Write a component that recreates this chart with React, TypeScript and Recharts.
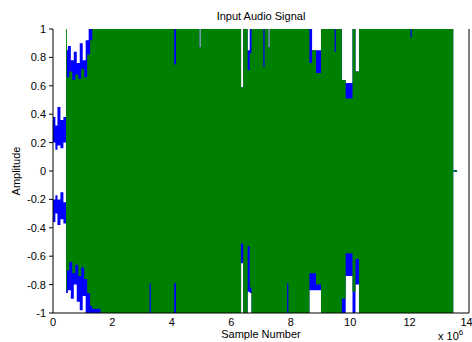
import React from 'react'
import { Area, ComposedChart, Line, XAxis, YAxis } from 'recharts'

// x in units of 10^6 samples
const xTicks = [0, 2, 4, 6, 8, 10, 12, 14]
const yTicks = [-1, -0.8, -0.6, -0.4, -0.2, 0, 0.2, 0.4, 0.6, 0.8, 1]

// green channel envelope (step)
const greenX = [0.44, 0.47, 0.55, 0.65, 0.75, 0.85, 0.95, 1.05, 1.15, 1.25, 1.32, 1.6, 3.25, 3.29, 4.08, 4.14, 4.93, 4.97, 6.33, 6.4, 6.55, 6.62, 6.68, 7.08, 7.12, 7.25, 7.29, 7.88, 7.92, 8.63, 8.72, 8.85, 9.02, 9.48, 9.52, 9.72, 9.85, 10.08, 10.18, 10.3, 12.03, 12.07, 13.47]
const greenHi = [1, 0.66, 0.7, 0.64, 0.68, 0.65, 0.72, 0.66, 0.82, 0.92, 1, 1, 1, 1, 0.75, 1, 0.87, 1, 0.59, 1, 0.71, 0.83, 1, 0.73, 1, 0.87, 1, 1, 1, 0.76, 0.85, 0.69, 1, 0.84, 1, 0.64, 0.51, 1, 0.7, 1, 0.94, 1, 1]
const greenLo = [-0.84, -0.7, -0.64, -0.72, -0.66, -0.74, -0.68, -0.76, -0.86, -0.95, -0.97, -1, -0.79, -1, -0.79, -1, -1, -1, -0.51, -1, -0.53, -0.82, -1, -1, -1, -1, -1, -0.79, -1, -0.72, -0.72, -0.8, -1, -1, -1, -0.9, -0.58, -0.85, -0.62, -1, -1, -1, -1]

// blue channel envelope (only shows where it exceeds green)
const blueX = [0.44, 0.5, 0.6, 0.7, 0.8, 0.9, 1.0, 1.1, 1.2, 4.93, 4.97, 6.33, 6.4, 6.55, 6.62, 6.68, 7.25, 7.29, 8.63, 8.72, 9.02, 9.72, 9.85, 10.08, 10.18, 10.3, 13.47]
const blueHi = [0.85, 0.88, 0.78, 0.84, 0.76, 0.9, 0.78, 0.92, 1, 0.87, 1, 0.59, 1, 0.85, 1, 1, 0.87, 1, 1, 0.85, 1, 0.64, 0.62, 1, 0.7, 1, 1]
const blueLo = [-0.86, -0.84, -0.9, -0.8, -0.92, -0.98, -0.88, -1, -1, -1, -1, -0.65, -1, -0.85, -0.86, -1, -1, -1, -0.84, -0.84, -1, -1, -0.74, -1, -0.8, -1, -1]

// quiet lead-in before the green channel starts: two blue bands
const leadX = [0, 0.08, 0.15, 0.25, 0.35, 0.44]
const leadTopHi = [0.38, 0.32, 0.45, 0.36, 0.38, 0.38]
const leadTopLo = [0.2, 0.15, 0.18, 0.16, 0.2, 0.2]
const leadBotHi = [-0.2, -0.17, -0.2, -0.15, -0.22, -0.22]
const leadBotLo = [-0.36, -0.3, -0.38, -0.34, -0.37, -0.37]

// tail after the signal ends
const tailX = [13.47, 13.6]
const tailY = [0, 0]

const green = greenX.map((x, i) => ({ x, v: [greenLo[i], greenHi[i]] }))
const blue = blueX.map((x, i) => ({ x, v: [blueLo[i], blueHi[i]] }))
const leadTop = leadX.map((x, i) => ({ x, v: [leadTopLo[i], leadTopHi[i]] }))
const leadBot = leadX.map((x, i) => ({ x, v: [leadBotLo[i], leadBotHi[i]] }))
const tail = tailX.map((x, i) => ({ x, y: tailY[i] }))

const font = '"Liberation Sans", Arial, sans-serif'

const RightTick = (props: any) => {
  const { x, y } = props
  return <line x1={x - 4} x2={x} y1={y} y2={y} stroke="#000" />
}

export default function App() {
  return (
    <div style={{ position: 'absolute', left: 0, top: 0, width: 472, height: 342, background: '#fff', fontFamily: font }}>
      <ComposedChart width={472} height={342} margin={{ top: 29, right: 0, bottom: 0, left: 0 }}>
        <XAxis xAxisId="b" type="number" dataKey="x" domain={[0, 14]} ticks={xTicks} allowDataOverflow
          axisLine={{ stroke: '#000' }} tickLine={false} tickSize={0} tickMargin={5} height={29}
          tick={{ fontSize: 11, fill: '#000', fontFamily: font }} />
        <XAxis xAxisId="t" orientation="top" type="number" domain={[0, 14]} height={0}
          axisLine={{ stroke: '#999' }} tick={false} tickLine={false} />
        <YAxis yAxisId="l" type="number" domain={[-1, 1]} ticks={yTicks} width={53} allowDataOverflow
          axisLine={{ stroke: '#000' }} tickLine={{ stroke: '#000' }} tickSize={4} tickMargin={3}
          tick={{ fontSize: 11, fill: '#000', fontFamily: font }} />
        <YAxis yAxisId="r" orientation="right" type="number" domain={[-1, 1]} ticks={yTicks} width={3}
          axisLine={{ stroke: '#000' }} tickLine={false} tickSize={0} tickMargin={0} tick={<RightTick />} />
        <Area xAxisId="b" yAxisId="l" data={leadTop} dataKey="v" type="stepAfter" stroke="none" fill="#0000ff" fillOpacity={1} isAnimationActive={false} />
        <Area xAxisId="b" yAxisId="l" data={leadBot} dataKey="v" type="stepAfter" stroke="none" fill="#0000ff" fillOpacity={1} isAnimationActive={false} />
        <Area xAxisId="b" yAxisId="l" data={blue} dataKey="v" type="stepAfter" stroke="none" fill="#0000ff" fillOpacity={1} isAnimationActive={false} />
        <Area xAxisId="b" yAxisId="l" data={green} dataKey="v" type="stepAfter" stroke="none" fill="#008000" fillOpacity={1} isAnimationActive={false} />
        <Line xAxisId="b" yAxisId="l" data={tail} dataKey="y" stroke="#006060" strokeWidth={2} dot={false} isAnimationActive={false} />
      </ComposedChart>
      <div style={{ position: 'absolute', left: 0, width: 522, top: 10, textAlign: 'center', fontSize: 11, color: '#000' }}>Input Audio Signal</div>
      <div style={{ position: 'absolute', left: 0, width: 522, top: 328, textAlign: 'center', fontSize: 11, color: '#000' }}>Sample Number</div>
      <div style={{ position: 'absolute', left: 16, top: 171, transform: 'translate(-50%, -50%) rotate(-90deg)', fontSize: 11, color: '#000', whiteSpace: 'nowrap' }}>Amplitude</div>
      <div style={{ position: 'absolute', left: 438, top: 326, fontSize: 11, lineHeight: '14px', color: '#000', whiteSpace: 'nowrap' }}>x 10<sup style={{ fontSize: 8, verticalAlign: 5 }}>6</sup></div>
    </div>
  )
}
